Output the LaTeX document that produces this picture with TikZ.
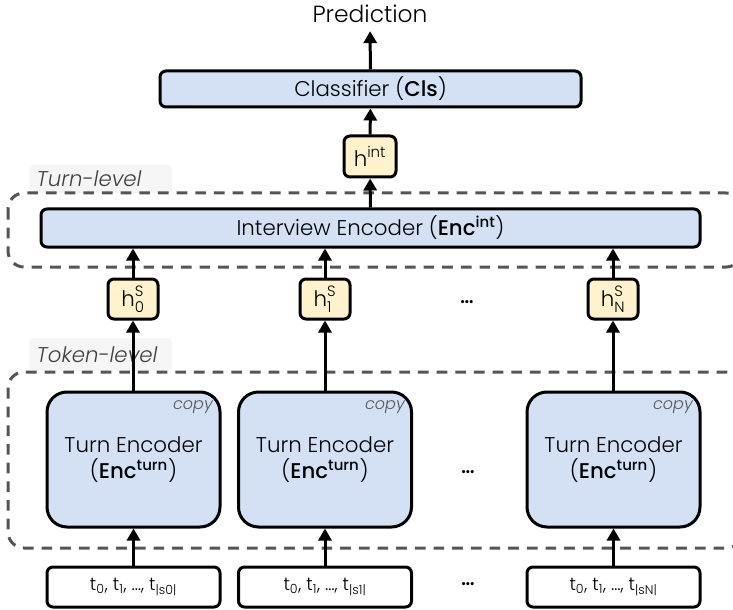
\documentclass[tikz,border=0pt]{standalone}
\usepackage{fontspec}
\usepackage{amsmath}
\IfFontExistsTF{Poppins Light}{%
  \setmainfont{Poppins Light}[BoldFont={Poppins Medium},ItalicFont={Poppins Light Italic}]}{%
  \setmainfont{Poppins}}
\usetikzlibrary{arrows.meta}

\definecolor{encblue}{RGB}{212,225,245}
\definecolor{hyellow}{RGB}{255,242,204}
\definecolor{framegray}{RGB}{85,85,85}
\definecolor{labelbg}{RGB}{245,245,245}
\newcommand{\hvec}[2]{$\text{h}^{\text{#1}}_{\text{#2}}$}
\newcommand{\tokseq}[1]{t\textsubscript{0}, t\textsubscript{1}, \dots, t\textsubscript{|#1|}}

\begin{document}
\begin{tikzpicture}[x=0.75pt,y=0.75pt,yscale=-1,xscale=1,
	box/.style={draw,line width=2.25pt,inner sep=0pt,align=center},
	encbox/.style={box,fill=encblue,rounded corners=4.5pt,font=\fontsize{16}{19}\selectfont},
	hbox/.style={box,fill=hyellow,rounded corners=4.5pt,minimum width=37.5pt,minimum height=30pt,font=\fontsize{16}{19}\selectfont},
	turnbox/.style={box,fill=encblue,rounded corners=15pt,minimum width=129.75pt,minimum height=101.25pt,font=\fontsize{16}{20}\selectfont},
	tokbox/.style={box,fill=white,rounded corners=4.5pt,minimum width=129.75pt,minimum height=30pt,font=\fontsize{13.5}{16}\selectfont},
	levelframe/.style={draw=framegray,line width=2.25pt,dash pattern=on 8pt off 6pt,rounded corners=12pt},
	leveltag/.style={fill=labelbg,rounded corners=3pt,anchor=west,text width=96pt,align=left,inner xsep=5.6pt,inner ysep=0pt,text=darkgray,font=\fontsize{16}{19}\selectfont\itshape},
	copytag/.style={anchor=east,inner sep=0pt,text=framegray,font=\fontsize{12}{14}\selectfont\itshape},
	dotstag/.style={font=\fontsize{16}{19}\selectfont\bfseries},
	arr/.style={line width=2.25pt,-{Triangle[width=9.75pt,length=9pt]}}
]
	\useasboundingbox (0,0) rectangle (733,610);

	% Text Node
	\node (pred) at (370,14) [inner sep=6pt,font=\fontsize{17.5}{20}\selectfont] {Prediction};
	% Text Node
	\node (cls) at (370.5,89) [encbox,minimum width=315.75pt,minimum height=27pt] {Classifier (\textbf{Cls})};
	% Text Node
	\node (hint) at (370,156.5) [hbox,minimum width=39pt,minimum height=30.75pt] {h\textsuperscript{int}};

	% Level tags
	\node (turntag) at (29,179) [leveltag,minimum height=21pt] {Turn-level};
	\node (toktag) at (29,354.5) [leveltag,minimum height=24.75pt] {Token-level};
	% Level frames
	\draw [levelframe] (8,193) rectangle (742,267);
	\draw [levelframe] (8,372) rectangle (742,548);

	% Text Node
	\node (enc) at (370.5,228) [encbox,minimum width=494.25pt,minimum height=28.5pt] {Interview Encoder (\textbf{Enc}\textsuperscript{\textbf{int}})};
	% Text Node
	\node (h0) at (133,299) [hbox] {\hvec{S}{0}};
	\node (h1) at (325,299) [hbox] {\hvec{S}{1}};
	\node (hN) at (613,299) [hbox] {\hvec{S}{N}};
	\node (hdots) at (467,302) [dotstag] {\dots};
	% Text Node
	\node (te0) at (133.5,459.5) [turnbox] {Turn Encoder\\(\textbf{Enc}\textsuperscript{\textbf{turn}})};
	\node (te1) at (325,459.5) [turnbox] {Turn Encoder\\(\textbf{Enc}\textsuperscript{\textbf{turn}})};
	\node (teN) at (613.5,459.5) [turnbox] {Turn Encoder\\(\textbf{Enc}\textsuperscript{\textbf{turn}})};
	\node (tedots) at (468,472) [dotstag] {\dots};
	\node (copy0) at (213,407) [copytag] {copy};
	\node (copy1) at (405,407) [copytag] {copy};
	\node (copyN) at (693,407) [copytag] {copy};
	% Text Node
	\node (tok0) at (133.5,587) [tokbox] {\tokseq{s0}};
	\node (tok1) at (325,587) [tokbox] {\tokseq{s1}};
	\node (tokN) at (613.5,587) [tokbox] {\tokseq{sN}};
	\node (tokdots) at (468,584) [dotstag] {\dots};

	% Connection
	\draw [arr] (cls) -- (pred);
	\draw [arr] (hint) -- (cls);
	\draw [arr] (enc) -- (hint);
	% Connection
	\draw [arr] (h0) -- (h0 |- enc.south);
	\draw [arr] (h1) -- (h1 |- enc.south);
	\draw [arr] (hN) -- (hN |- enc.south);
	% Connection
	\draw [arr] (te0.north -| h0) -- (h0);
	\draw [arr] (te1.north -| h1) -- (h1);
	\draw [arr] (teN.north -| hN) -- (hN);
	% Connection
	\draw [arr] (tok0) -- (te0);
	\draw [arr] (tok1) -- (te1);
	\draw [arr] (tokN) -- (teN);

\end{tikzpicture}
\end{document}
